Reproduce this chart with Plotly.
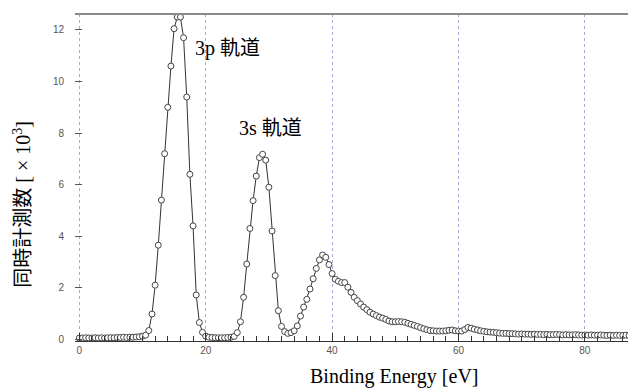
import numpy as np
import plotly.graph_objects as go

# Binding energy grid (eV), 0.5 eV sampling from 0 to 88
energy_start = 0.0
energy_step = 0.5
counts = [
    # 0 - 9.0
    0.05, 0.05, 0.06, 0.05, 0.05, 0.06, 0.05, 0.06, 0.05, 0.06,
    0.06, 0.06, 0.07, 0.07, 0.08, 0.07, 0.08, 0.08, 0.09,
    # 9.5 - 20.0
    0.10, 0.12, 0.16, 0.34, 0.98, 2.10, 3.65, 5.40, 7.20, 9.00,
    10.60, 12.05, 12.50, 12.50, 11.70, 9.40, 6.40, 4.40, 1.72, 0.65,
    0.27, 0.12,
    # 20.5 - 34.5
    0.08, 0.07, 0.06, 0.06, 0.06, 0.06, 0.07, 0.08, 0.11, 0.26,
    0.68, 1.63, 2.92, 4.30, 5.38, 6.33, 7.05, 7.18, 6.95, 5.90,
    4.20, 2.47, 1.11, 0.50, 0.30, 0.23, 0.26, 0.33, 0.52,
    # 35.0 - 51.0
    0.90, 1.25, 1.55, 1.95, 2.35, 2.75, 3.08, 3.27, 3.18, 2.90,
    2.55, 2.33, 2.25, 2.20, 2.20, 2.02, 1.82, 1.63, 1.50, 1.37,
    1.25, 1.15, 1.05, 0.98, 0.92, 0.86, 0.82, 0.77, 0.71, 0.68,
    0.68, 0.69, 0.68,
    # 51.5 - 69.5
    0.66, 0.62, 0.58, 0.54, 0.50, 0.45, 0.41, 0.37, 0.34, 0.33,
    0.32, 0.32, 0.32, 0.33, 0.35, 0.36, 0.33, 0.32, 0.32, 0.38,
    0.46, 0.43, 0.39, 0.36, 0.33, 0.31, 0.29, 0.28, 0.27, 0.26,
    0.24, 0.23, 0.23, 0.22, 0.22, 0.21, 0.20,
    # 70.0 - 88.0
    0.21, 0.20, 0.20, 0.19, 0.20, 0.19, 0.19, 0.18, 0.19, 0.18,
    0.18, 0.19, 0.18, 0.17, 0.18, 0.17, 0.17, 0.18, 0.17, 0.16,
    0.17, 0.16, 0.17, 0.16, 0.16, 0.17, 0.16, 0.15, 0.16, 0.15,
    0.16, 0.15, 0.15, 0.16, 0.15, 0.15, 0.15,
]
energies = energy_start + energy_step * np.arange(len(counts))

x_ticks = [0, 20, 40, 60, 80]
y_ticks = [0, 2, 4, 6, 8, 10, 12]

CJK = "<span style='font-family:Noto Sans CJK JP'>{}</span>"
peak_labels = ["3p " + CJK.format("軌道"), "3s " + CJK.format("軌道")]
peak_label_pos = [(23.4, 11.34), (30.3, 8.24)]

x_title = "Binding Energy [eV]"
y_title = CJK.format("同時計測数") + " [ × 10<sup>3</sup>]"

fig = go.Figure()
fig.add_trace(go.Scatter(
    x=energies, y=counts, mode="lines+markers",
    line=dict(color="#333333", width=1),
    marker=dict(symbol="circle", size=6, color="white",
                line=dict(color="#444444", width=1)),
    showlegend=False, cliponaxis=False,
))

for txt, (px, py) in zip(peak_labels, peak_label_pos):
    fig.add_annotation(x=px, y=py, xref="x", yref="y", text=txt, showarrow=False,
                       font=dict(family="Liberation Serif", size=20, color="black"))

fig.add_annotation(x=0.570, y=-0.108, xref="paper", yref="paper", text=x_title,
                   showarrow=False, yanchor="middle", xanchor="center",
                   font=dict(family="Liberation Serif, Times New Roman, serif", size=20, color="black"))
fig.add_annotation(x=-0.0945, y=0.42, xref="paper", yref="paper", text=y_title,
                   textangle=-90, showarrow=False, xanchor="center", yanchor="middle",
                   font=dict(family="Liberation Serif", size=20, color="black"))

# top frame line
fig.add_shape(type="line", xref="paper", yref="paper", x0=0, x1=1, y0=1, y1=1,
              line=dict(color="#8a8a8a", width=2))

# page body has an 8px default margin, so the figure is sized to fit inside the window
fig.update_layout(
    width=628, height=381,
    margin=dict(l=67, r=0, t=6, b=48),
    paper_bgcolor="white", plot_bgcolor="white",
    xaxis=dict(
        range=[-0.68, 88.09], tickmode="array", tickvals=x_ticks,
        showgrid=True, gridcolor="#a8a8d8", griddash="dot", gridwidth=1,
        zeroline=False, showline=True, linecolor="#333333", linewidth=1,
        ticks="inside", ticklen=8, tickcolor="#333333",
        minor=dict(dtick=2, ticks="inside", ticklen=5, tickcolor="#333333", showgrid=False),
        tickfont=dict(family="Liberation Sans, Arial, sans-serif", size=10, color="#555555"),
    ),
    yaxis=dict(
        range=[-0.066, 12.62], tickmode="array", tickvals=y_ticks,
        showgrid=False, zeroline=False, showline=False,
        ticks="inside", ticklen=7, tickcolor="#555555", ticklabelstandoff=10,
        tickfont=dict(family="Liberation Sans, Arial, sans-serif", size=10, color="#555555"),
    ),
)

fig.write_html("out.html")
